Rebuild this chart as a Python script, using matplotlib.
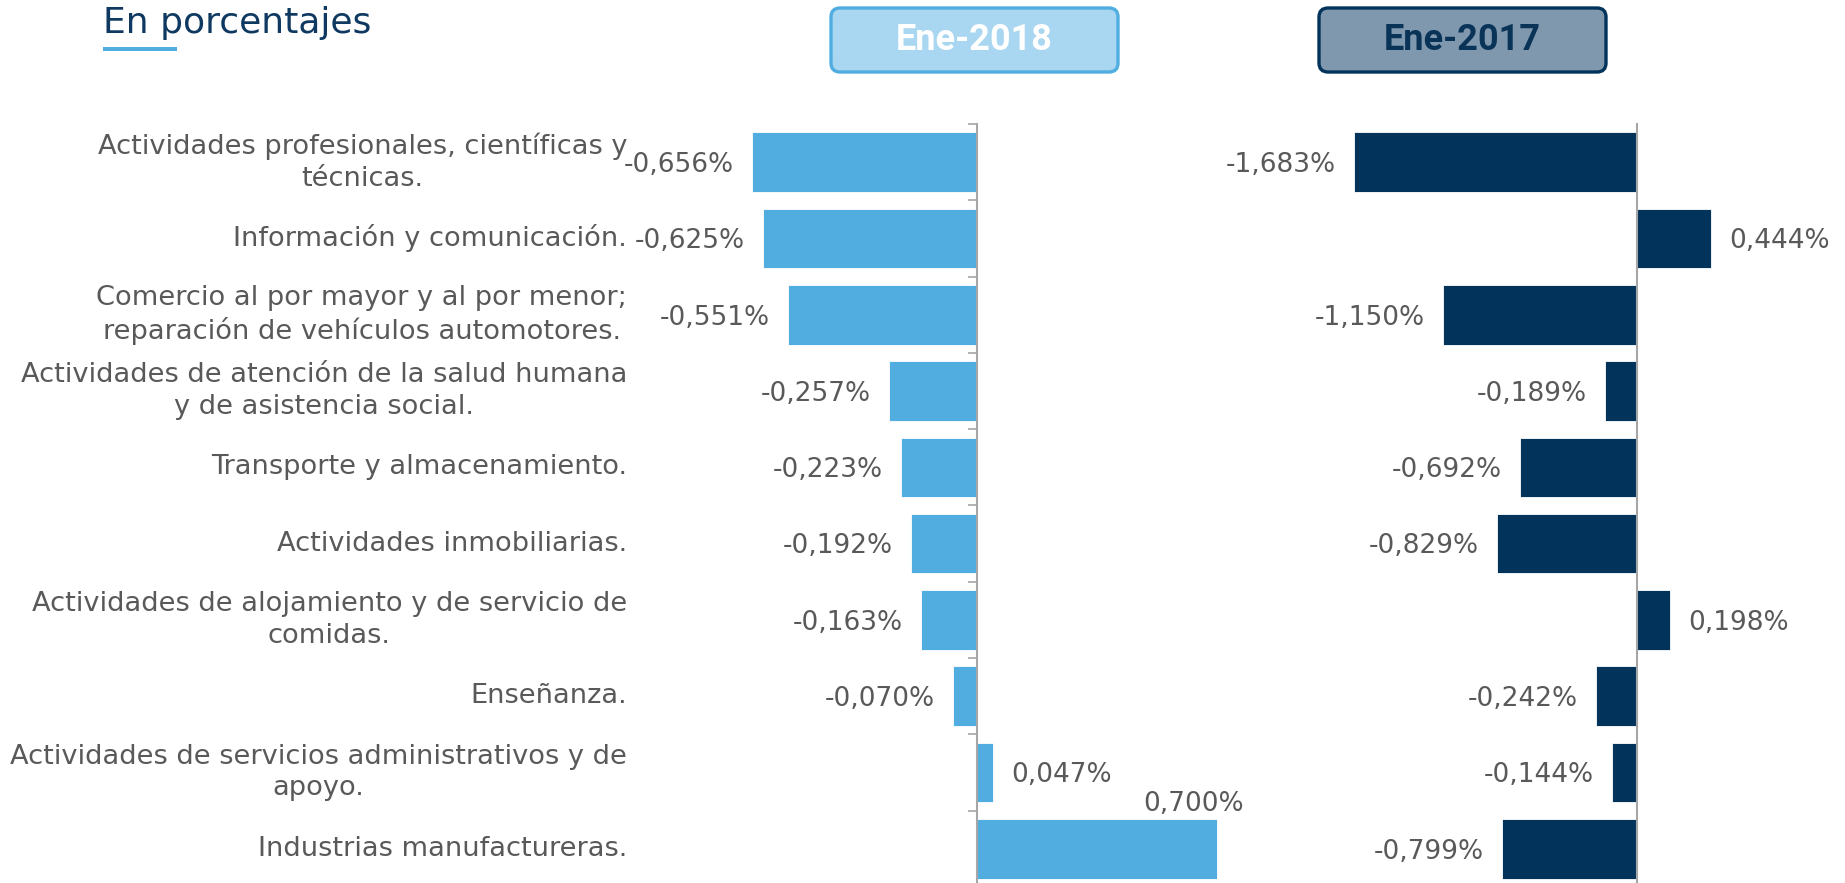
import matplotlib
matplotlib.use("Agg")
import matplotlib.pyplot as plt
from matplotlib.patches import FancyBboxPatch, Rectangle
from matplotlib.transforms import IdentityTransform, blended_transform_factory

# ---------------- data ----------------
categories = [
    "Actividades profesionales, científicas y\ntécnicas.",
    "Información y comunicación.",
    "Comercio al por mayor y al por menor;\nreparación de vehículos automotores.",
    "Actividades de atención de la salud humana\ny de asistencia social.",
    "Transporte y almacenamiento.",
    "Actividades inmobiliarias.",
    "Actividades de alojamiento y de servicio de\ncomidas.",
    "Enseñanza.",
    "Actividades de servicios administrativos y de\napoyo.",
    "Industrias manufactureras.",
]
ene_2018 = [-0.656, -0.625, -0.551, -0.257, -0.223, -0.192, -0.163, -0.070, 0.047, 0.700]
ene_2017 = [-1.683, 0.444, -1.150, -0.189, -0.692, -0.829, 0.198, -0.242, -0.144, -0.799]
title = "En porcentajes"
header_2018 = "Ene-2018"
header_2017 = "Ene-2017"

# ---------------- style ----------------
W, H = 1845, 883
DPI = 100
C_LIGHT = "#51ADE0"
C_DARK = "#02335A"
C_TEXT = "#595959"
C_SPINE = "#A6A6A6"
FONT = "DejaVu Sans"

plt.rcParams["font.family"] = [FONT]

fig = plt.figure(figsize=(W / DPI, H / DPI), dpi=DPI)

def px_axes(left_px, right_px, top_px, bottom_px):
    return fig.add_axes([left_px / W, (H - bottom_px) / H,
                         (right_px - left_px) / W, (bottom_px - top_px) / H])

n = len(categories)
ys = list(range(n))
top_px, bot_px = 124, 887

# left panel: zero at x=977, 343 px per unit
zero_l, scale_l = 977, 343
xl = (-0.8, 0.8)
axL = px_axes(zero_l + xl[0] * scale_l, zero_l + xl[1] * scale_l, top_px, bot_px)
# right panel: zero at x=1636.5, 168 px per unit
zero_r, scale_r = 1636.5, 168
xr = (-1.8, 0.6)
axR = px_axes(zero_r + xr[0] * scale_r, zero_r + xr[1] * scale_r, top_px, bot_px)

def fmt(v):
    return ("%.3f" % v).replace(".", ",") + "%"

for ax, vals, col, xlim, ticks in ((axL, ene_2018, C_LIGHT, xl, True),
                                   (axR, ene_2017, C_DARK, xr, False)):
    ax.barh(ys, vals, height=0.78, color=col, edgecolor="white", linewidth=0.6, zorder=1)
    ax.set_xlim(*xlim)
    ax.set_ylim(n - 0.5, -0.5)
    for s in ("top", "right", "bottom"):
        ax.spines[s].set_visible(False)
    ax.spines["left"].set_position(("data", 0))
    ax.spines["left"].set_color(C_SPINE)
    ax.spines["left"].set_linewidth(1.5)
    ax.spines["left"].set_zorder(3)
    ax.set_xticks([])
    ax.set_yticks([i - 0.5 for i in range(n + 1)])
    ax.set_yticklabels([])
    ax.tick_params(axis="y", direction="out", length=6.5 if ticks else 0,
                   width=1.2, color=C_SPINE)
    ax.patch.set_alpha(0)
    for i, v in enumerate(vals):
        if v < 0:
            ax.annotate(fmt(v), xy=(v, i), xytext=(-13, -2), textcoords="offset points",
                        ha="right", va="center", fontsize=19, color=C_TEXT,
                        annotation_clip=False)
        else:
            ax.annotate(fmt(v), xy=(v, i), xytext=(13, -2), textcoords="offset points",
                        ha="left", va="center", fontsize=19, color=C_TEXT,
                        annotation_clip=False)

# the largest positive label of Ene-2018 sits above its bar (as in the source)
last = axL.texts[-1]
last.set_position((19, 32))
last.set_ha("right")

# category labels
tr = blended_transform_factory(fig.transFigure, axL.transData)
for i, c in enumerate(categories):
    fig.text(627 / W, i, c, transform=tr, ha="right", va="center",
             multialignment="center", fontsize=19.6, color=C_TEXT, linespacing=1.27)

# title + underline
fig.text(103 / W, (H - 32.5) / H, title, ha="left", va="baseline",
         fontsize=26, color="#0F3960")
fig.add_artist(Rectangle((103, H - 51), 74, 4, transform=IdentityTransform(),
                         facecolor=C_LIGHT, edgecolor="none"))

# header boxes
def header(x0, x1, y0, y1, text, fc, ec, tc):
    b = FancyBboxPatch((x0, H - y1), x1 - x0, y1 - y0,
                       boxstyle="round,pad=0,rounding_size=9",
                       transform=IdentityTransform(), facecolor=fc, edgecolor=ec,
                       linewidth=2.4)
    fig.add_artist(b)
    fig.text((x0 + x1) / 2 / W, (H - (y0 + y1) / 2) / H, text, ha="center",
             va="center", fontsize=26, fontweight="bold", color=tc,
             family=["Roboto", "DejaVu Sans"])

header(831, 1118, 8, 72, header_2018, "#A9D6F0", "#4FADE0", "white")
header(1319, 1606, 8, 72, header_2017, "#8098AE", "#02335A", "#0A3358")

fig.savefig("out.png", dpi=DPI)
